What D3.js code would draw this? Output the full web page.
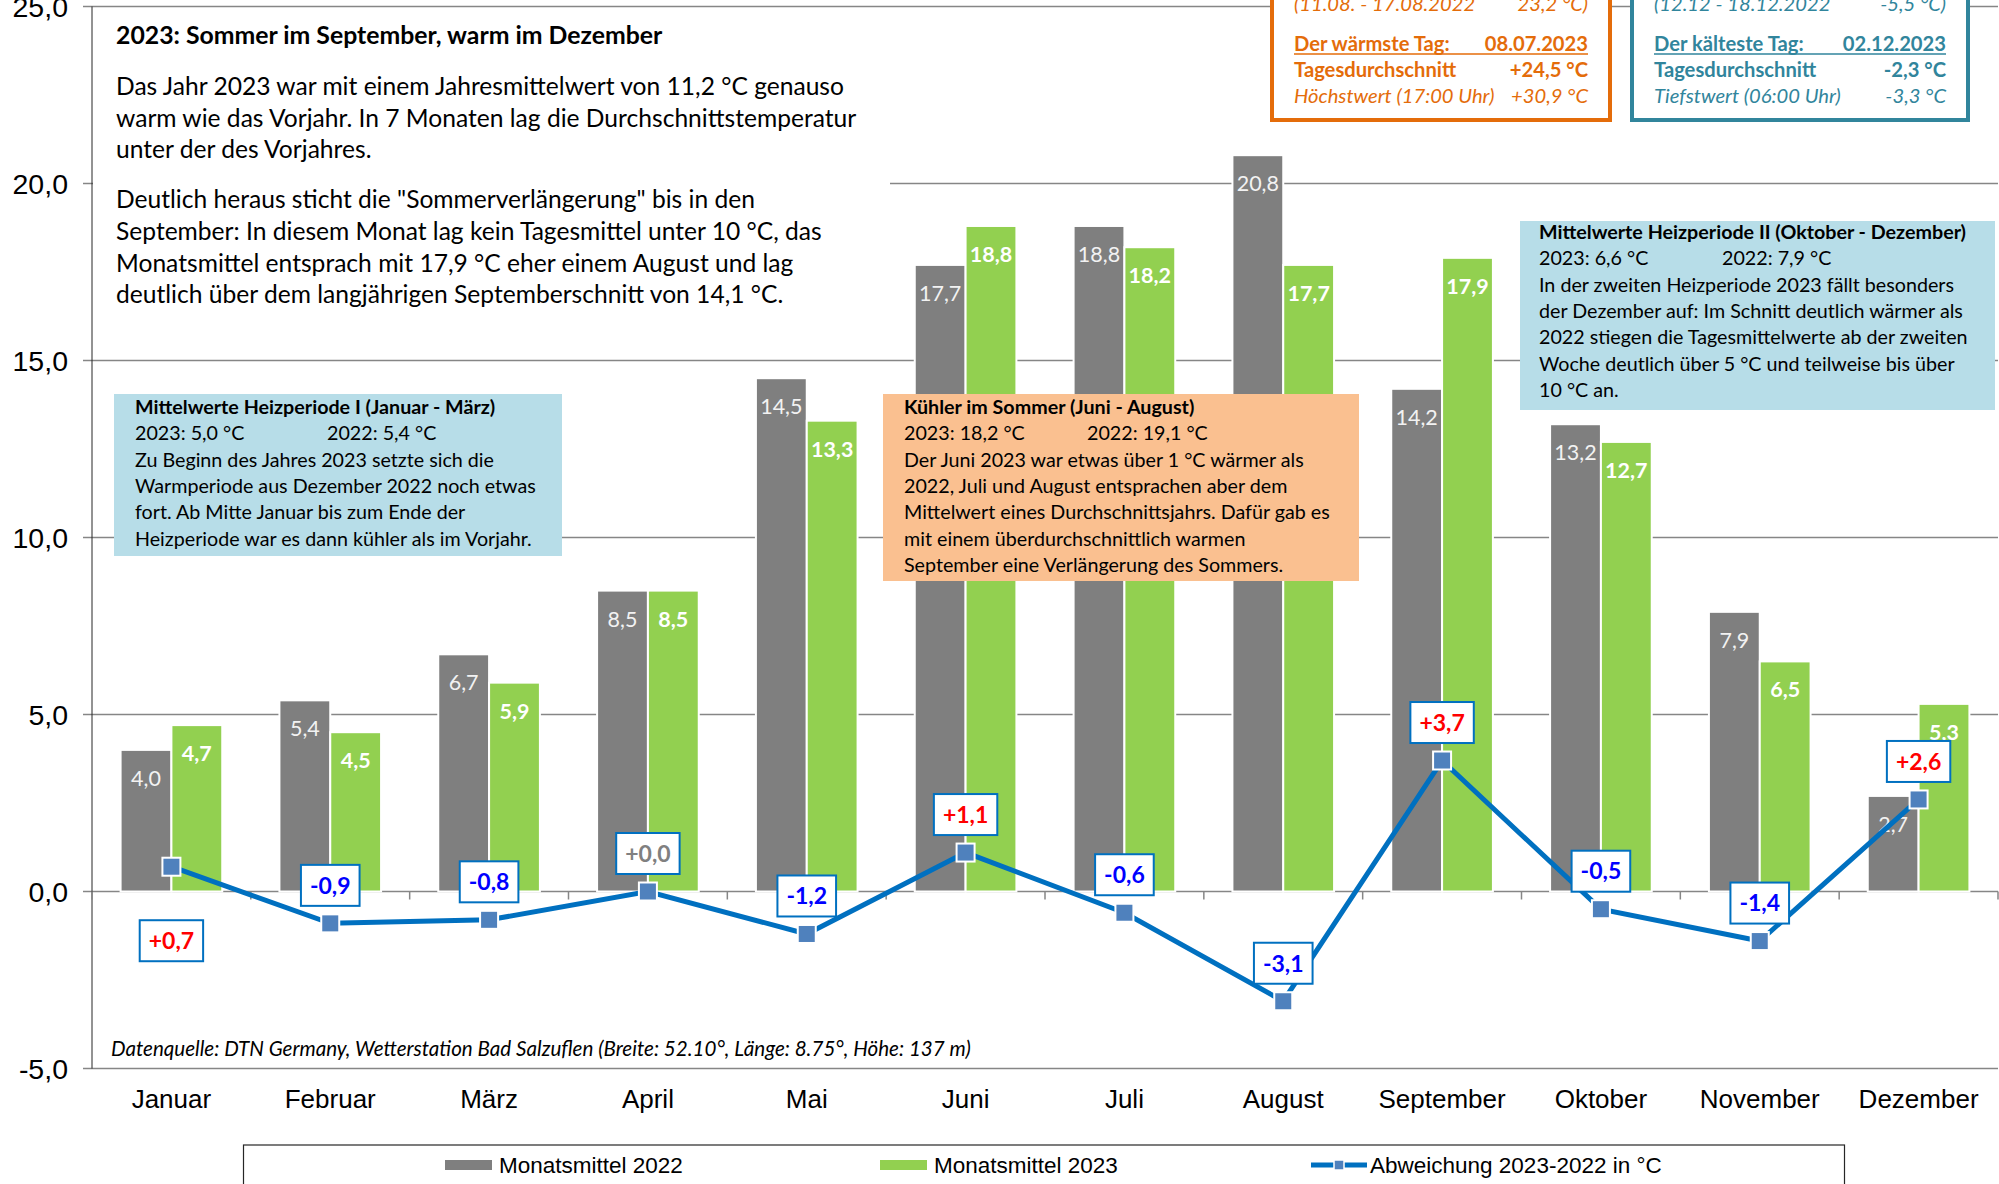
<!DOCTYPE html>
<html>
<head>
<meta charset="utf-8">
<script src="https://cdn.jsdelivr.net/npm/d3@7/dist/d3.min.js"></script>
<style>
  body { margin: 0; background: #fff; }
  svg { display: block; }
</style>
</head>
<body>
<svg id="chart"></svg>
<script>
// ---- data ----
const months = ["Januar", "Februar", "März", "April", "Mai", "Juni", "Juli",
  "August", "September", "Oktober", "November", "Dezember"];
const mean2022 = [4.0, 5.4, 6.7, 8.5, 14.5, 17.7, 18.8, 20.8, 14.2, 13.2, 7.9, 2.7];
const mean2023 = [4.7, 4.5, 5.9, 8.5, 13.3, 18.8, 18.2, 17.7, 17.9, 12.7, 6.5, 5.3];
const deviation = [0.7, -0.9, -0.8, 0.0, -1.2, 1.1, -0.6, -3.1, 3.7, -0.5, -1.4, 2.6];
const yTicks = [-5, 0, 5, 10, 15, 20, 25];
const seriesNames = ["Monatsmittel 2022", "Monatsmittel 2023", "Abweichung 2023-2022 in °C"];

const introTitle = "2023: Sommer im September, warm im Dezember";
const introPara1 = [
  "Das Jahr 2023 war mit einem Jahresmittelwert von 11,2 °C genauso",
  "warm wie das Vorjahr. In 7 Monaten lag die Durchschnittstemperatur",
  "unter der des Vorjahres."
];
const introPara2 = [
  "Deutlich heraus sticht die \"Sommerverlängerung\" bis in den",
  "September: In diesem Monat lag kein Tagesmittel unter 10 °C, das",
  "Monatsmittel entsprach mit 17,9 °C eher einem August und lag",
  "deutlich über dem langjährigen Septemberschnitt von 14,1 °C."
];
const heiz1 = {
  title: "Mittelwerte Heizperiode I (Januar - März)",
  a: "2023: 5,0 °C", b: "2022: 5,4 °C",
  lines: ["Zu Beginn des Jahres 2023 setzte sich die",
    "Warmperiode aus Dezember 2022 noch etwas",
    "fort. Ab Mitte Januar bis zum Ende der",
    "Heizperiode war es dann kühler als im Vorjahr."]
};
const sommer = {
  title: "Kühler im Sommer (Juni - August)",
  a: "2023: 18,2 °C", b: "2022: 19,1 °C",
  lines: ["Der Juni 2023 war etwas über 1 °C wärmer als",
    "2022, Juli und August entsprachen aber dem",
    "Mittelwert eines Durchschnittsjahrs. Dafür gab es",
    "mit einem überdurchschnittlich warmen",
    "September eine Verlängerung des Sommers."]
};
const heiz2 = {
  title: "Mittelwerte Heizperiode II (Oktober - Dezember)",
  a: "2023: 6,6 °C", b: "2022: 7,9 °C",
  lines: ["In der zweiten Heizperiode 2023 fällt besonders",
    "der Dezember auf: Im Schnitt deutlich wärmer als",
    "2022 stiegen die Tagesmittelwerte ab der zweiten",
    "Woche deutlich über 5 °C und teilweise bis über",
    "10 °C an."]
};
const warmRows = [
  ["(11.08. - 17.08.2022", "23,2 °C)", "italic"],
  ["Der wärmste Tag:", "08.07.2023", "head"],
  ["Tagesdurchschnitt", "+24,5 °C", "bold"],
  ["Höchstwert (17:00 Uhr)", "+30,9 °C", "italic"]
];
const coldRows = [
  ["(12.12 - 18.12.2022", "-5,5 °C)", "italic"],
  ["Der kälteste Tag:", "02.12.2023", "head"],
  ["Tagesdurchschnitt", "-2,3 °C", "bold"],
  ["Tiefstwert (06:00 Uhr)", "-3,3 °C", "italic"]
];
const sourceNote = "Datenquelle: DTN Germany, Wetterstation Bad Salzuflen (Breite: 52.10°, Länge: 8.75°, Höhe: 137 m)";

// ---- setup ----
const W = 1999, H = 1184;
const svg = d3.select("#chart").attr("width", W).attr("height", H);
const calibri = "Lato, 'Open Sans', sans-serif";
const arial = "'Liberation Sans', Arial, sans-serif";

const de = d3.formatLocale({ decimal: ",", thousands: ".", grouping: [3], currency: ["", " €"], minus: "-" });
const f1 = de.format(".1f");
const fSigned = de.format("+.1f");

const plotLeft = 92, plotRight = 1998;
const x0 = d3.scaleBand().domain(months).range([plotLeft, plotRight])
  .paddingInner(0.36).paddingOuter(0.18);
const x1 = d3.scaleBand().domain(["2022", "2023"]).range([0, x0.bandwidth()]);
const y = d3.scaleLinear().domain([-5, 25]).range([1068.5, 6.5]);
const step = x0.step();

// gridlines
svg.append("g").selectAll("line").data(yTicks).join("line")
  .attr("x1", plotLeft - 9).attr("x2", plotRight)
  .attr("y1", d => y(d)).attr("y2", d => y(d))
  .attr("stroke", "#868686").attr("stroke-width", 1.5);

// y labels
svg.append("g").selectAll("text").data(yTicks).join("text")
  .attr("x", 68).attr("y", d => y(d)).attr("dy", "0.36em")
  .attr("text-anchor", "end")
  .style("font-family", arial).style("font-size", "28.5px").attr("fill", "#000")
  .text(d => f1(d));

// vertical axis
svg.append("line").attr("x1", plotLeft).attr("x2", plotLeft)
  .attr("y1", y(25)).attr("y2", y(-5)).attr("stroke", "#262626").attr("stroke-width", 1);

// category ticks on the zero line
svg.append("g").selectAll("line").data(d3.range(months.length + 1)).join("line")
  .attr("x1", i => plotLeft + i * step).attr("x2", i => plotLeft + i * step)
  .attr("y1", y(0)).attr("y2", y(0) + 8)
  .attr("stroke", "#868686").attr("stroke-width", 1.5);

// month labels
svg.append("g").selectAll("text").data(months).join("text")
  .attr("x", d => x0(d) + x0.bandwidth() / 2).attr("y", 1108)
  .attr("text-anchor", "middle")
  .style("font-family", arial).style("font-size", "26px").attr("fill", "#000")
  .text(d => d);

// bars
const rows = months.map((m, i) => ({ m, v22: mean2022[i], v23: mean2023[i], dev: deviation[i] }));
const groups = svg.append("g").selectAll("g").data(rows).join("g")
  .attr("transform", d => `translate(${x0(d.m)},0)`);

groups.append("rect")
  .attr("x", x1("2022")).attr("width", x1.bandwidth())
  .attr("y", d => y(d.v22)).attr("height", d => y(0) - y(d.v22))
  .attr("fill", "#7f7f7f").attr("stroke", "#fff").attr("stroke-width", 2);
groups.append("rect")
  .attr("x", x1("2023")).attr("width", x1.bandwidth())
  .attr("y", d => y(d.v23)).attr("height", d => y(0) - y(d.v23))
  .attr("fill", "#92d050").attr("stroke", "#fff").attr("stroke-width", 2);

groups.append("text")
  .attr("x", x1("2022") + x1.bandwidth() / 2).attr("y", d => y(d.v22) + 36)
  .attr("text-anchor", "middle")
  .style("font-family", calibri).style("font-size", "21.5px").attr("fill", "#f2f2f2")
  .text(d => f1(d.v22));
groups.append("text")
  .attr("x", x1("2023") + x1.bandwidth() / 2).attr("y", d => y(d.v23) + 36)
  .attr("text-anchor", "middle")
  .style("font-family", calibri).style("font-size", "21.5px").style("font-weight", "bold")
  .attr("fill", "#fff")
  .text(d => f1(d.v23));

// ---- text boxes ----
function infoBox(box, x, yTop, w, h, fill, tx, colB, base) {
  const g = svg.append("g");
  g.append("rect").attr("x", x).attr("y", yTop).attr("width", w).attr("height", h).attr("fill", fill);
  const lh = 26.3;
  const t = g.append("g").style("font-family", calibri).style("font-size", "19.7px").attr("fill", "#000");
  t.append("text").attr("x", tx).attr("y", base).style("font-weight", "bold").text(box.title);
  t.append("text").attr("x", tx).attr("y", base + lh).text(box.a);
  t.append("text").attr("x", colB).attr("y", base + lh).text(box.b);
  box.lines.forEach((s, i) => {
    t.append("text").attr("x", tx).attr("y", base + lh * (i + 2)).text(s);
  });
}

// intro (white text box hides the grid behind it)
const intro = svg.append("g");
intro.append("rect").attr("x", plotLeft + 1).attr("y", 12).attr("width", 797).attr("height", 315).attr("fill", "#fff");
intro.append("text").attr("x", 116).attr("y", 44)
  .style("font-family", calibri).style("font-size", "24.8px").style("font-weight", "bold")
  .text(introTitle);
const introText = intro.append("g").style("font-family", calibri).style("font-size", "24.6px").attr("fill", "#000");
introPara1.forEach((s, i) => introText.append("text").attr("x", 116).attr("y", 95 + i * 31.5).text(s));
introPara2.forEach((s, i) => introText.append("text").attr("x", 116).attr("y", 208 + i * 31.8).text(s));

infoBox(heiz1, 114, 394, 448, 162, "#b7dde8", 135, 327, 414);
infoBox(sommer, 883, 394, 476, 187, "#fac090", 904, 1087, 414);
infoBox(heiz2, 1520, 221, 475, 189, "#b7dde8", 1539, 1722, 239);

// top record boxes
function recordBox(rowsData, x, w, color) {
  const g = svg.append("g");
  g.append("rect").attr("x", x).attr("y", -20).attr("width", w).attr("height", 140)
    .attr("fill", "#fff").attr("stroke", color).attr("stroke-width", 4);
  const left = x + 22, right = x + w - 22;
  const bases = [11, 51, 77, 103];
  rowsData.forEach((r, i) => {
    const t = g.append("g").style("font-family", calibri).style("font-size", "20.2px").attr("fill", color);
    if (r[2] === "italic") t.style("font-style", "italic");
    else t.style("font-weight", "bold");
    t.append("text").attr("x", left).attr("y", bases[i]).text(r[0]);
    t.append("text").attr("x", right).attr("y", bases[i]).attr("text-anchor", "end").text(r[1]);
    if (r[2] === "head") {
      g.append("line").attr("x1", left).attr("x2", right)
        .attr("y1", bases[i] + 3).attr("y2", bases[i] + 3)
        .attr("stroke", color).attr("stroke-width", 1.5);
    }
  });
}
recordBox(warmRows, 1272, 338, "#e46c0a");
recordBox(coldRows, 1632, 336, "#31859c");

// source note
svg.append("text").attr("x", 111).attr("y", 1056)
  .style("font-family", calibri).style("font-size", "20.6px").style("font-style", "italic")
  .text(sourceNote);

// ---- deviation line ----
const cx = m => x0(m) + x0.bandwidth() / 2;
svg.append("path").datum(rows)
  .attr("d", d3.line().x(d => cx(d.m)).y(d => y(d.dev)))
  .attr("fill", "none").attr("stroke", "#0070c0").attr("stroke-width", 5);
svg.append("g").selectAll("rect").data(rows).join("rect")
  .attr("x", d => cx(d.m) - 9).attr("y", d => y(d.dev) - 9)
  .attr("width", 18).attr("height", 18)
  .attr("fill", "#4f81bd").attr("stroke", "#fff").attr("stroke-width", 2);

// deviation labels
const devLab = svg.append("g").selectAll("g").data(rows).join("g")
  .attr("transform", (d, i) => `translate(${cx(d.m)},${y(d.dev) + (i === 0 ? 74 : -38)})`);
devLab.append("text")
  .attr("text-anchor", "middle").attr("dy", "0.36em")
  .style("font-family", calibri).style("font-size", "23px").style("font-weight", "bold")
  .attr("fill", d => d.dev > 0 ? "#ff0000" : d.dev < 0 ? "#0000ff" : "#808080")
  .text(d => fSigned(d.dev));
devLab.each(function () {
  const g = d3.select(this);
  const w = g.select("text").node().getComputedTextLength() + 18;
  g.insert("rect", "text").attr("x", -w / 2).attr("y", -20.5).attr("width", w).attr("height", 41)
    .attr("fill", "#fff").attr("stroke", "#0070c0").attr("stroke-width", 2);
});

// ---- legend ----
const leg = svg.append("g");
leg.append("rect").attr("x", 243.5).attr("y", 1145).attr("width", 1601).attr("height", 60)
  .attr("fill", "#fff").attr("stroke", "#262626").attr("stroke-width", 1.2);
const legY = 1165;
leg.append("rect").attr("x", 445).attr("y", legY - 5).attr("width", 47).attr("height", 10).attr("fill", "#7f7f7f");
leg.append("rect").attr("x", 880).attr("y", legY - 5).attr("width", 47).attr("height", 10).attr("fill", "#92d050");
leg.append("line").attr("x1", 1311).attr("x2", 1367).attr("y1", legY).attr("y2", legY)
  .attr("stroke", "#0070c0").attr("stroke-width", 5);
leg.append("rect").attr("x", 1334).attr("y", legY - 5).attr("width", 10).attr("height", 10)
  .attr("fill", "#4f81bd").attr("stroke", "#fff").attr("stroke-width", 1.5);
leg.selectAll("text.l").data(seriesNames).join("text")
  .attr("x", (d, i) => [499, 934, 1370][i]).attr("y", legY).attr("dy", "0.36em")
  .style("font-family", arial).style("font-size", "22.5px").attr("fill", "#000")
  .text(d => d);
</script>
</body>
</html>
